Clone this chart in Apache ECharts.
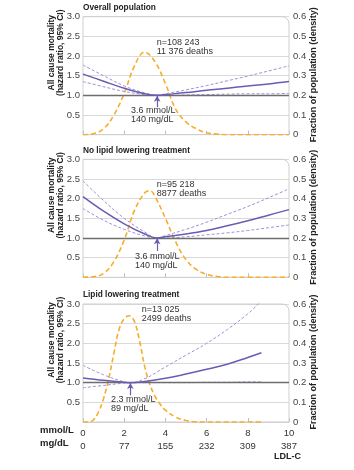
<!DOCTYPE html>
<html><head><meta charset="utf-8">
<script src="https://cdn.jsdelivr.net/npm/echarts@6/dist/echarts.min.js"></script>
<style>html,body{margin:0;padding:0;background:#fff}#c{width:354px;height:470px}</style>
</head><body><div id="c"></div>
<script>
// ---------- data ----------
const panelTitles = ['Overall population', 'No lipid lowering treatment', 'Lipid lowering treatment'];
const nTexts = [['n=108 243', '11 376 deaths'], ['n=95 218', '8877 deaths'], ['n=13 025', '2499 deaths']];
const nadirTexts = [['3.6 mmol/L', '140 mg/dL'], ['3.6 mmol/L', '140 mg/dL'], ['2.3 mmol/L', '89 mg/dL']];
const nadirX = [3.6, 3.6, 2.3];

const hrX1 = [0, 1, 2, 3, 3.6, 4, 5, 6, 7, 8, 9, 10];
const hr1 = [1.54, 1.36, 1.18, 1.04, 1.0, 1.02, 1.07, 1.13, 1.18, 1.24, 1.29, 1.35];
const hr1Up = [1.77, 1.5, 1.24, 1.06, 1.0, 1.04, 1.14, 1.25, 1.37, 1.49, 1.62, 1.75];
const hr1Lo = [1.35, 1.22, 1.1, 1.02, 1.0, 1.0, 1.01, 1.02, 1.03, 1.04, 1.04, 1.05];

const hrX2 = [0, 1, 2, 3, 3.6, 4, 5, 6, 7, 8, 9, 10];
const hr2 = [2.05, 1.68, 1.36, 1.1, 1.0, 1.03, 1.1, 1.19, 1.31, 1.44, 1.58, 1.72];
const hr2Up = [2.45, 1.95, 1.5, 1.15, 1.0, 1.06, 1.22, 1.4, 1.6, 1.8, 2.02, 2.25];
const hr2Lo = [1.75, 1.45, 1.22, 1.05, 1.0, 1.0, 1.03, 1.08, 1.13, 1.19, 1.26, 1.33];

const hrX3 = [0, 1, 2, 2.3, 3, 4, 5, 6, 7, 8, 8.66];
const hr3 = [1.12, 1.06, 1.01, 1.0, 1.03, 1.11, 1.22, 1.34, 1.47, 1.64, 1.76];
const hr3Up = [1.44, 1.2, 1.02, 1.0, 1.1, 1.4, 1.7, 2.0, 2.35, 2.75, 3.08];
const hr3Lo = [0.87, 0.93, 0.99, 1.0, 1.0, 1.0, 1.0, 1.01, 1.01, 1.02, 1.02];

const densX1 = [0, 0.5, 1, 1.5, 2, 2.5, 3, 3.5, 4, 4.5, 5, 5.5, 6, 6.5, 7, 8, 9, 10];
const dens1 = [0, 0.005, 0.03, 0.10, 0.21, 0.35, 0.42, 0.37, 0.26, 0.13, 0.065, 0.03, 0.01, 0.003, 0, 0, 0, 0];
const densX2 = [0, 0.5, 1, 1.5, 2, 2.5, 3, 3.25, 3.5, 4, 4.5, 5, 5.5, 6, 6.5, 7, 8, 9, 10];
const dens2 = [0, 0.003, 0.02, 0.08, 0.19, 0.34, 0.43, 0.44, 0.41, 0.30, 0.18, 0.09, 0.04, 0.015, 0.004, 0, 0, 0, 0];
const densX3 = [0, 0.25, 0.5, 0.75, 1, 1.25, 1.5, 1.75, 2, 2.25, 2.5, 2.75, 3, 3.25, 3.5, 3.75, 4, 4.5, 5, 5.5, 6, 7, 8, 8.66];
const dens3 = [0, 0, 0.01, 0.05, 0.12, 0.22, 0.35, 0.47, 0.525, 0.54, 0.51, 0.41, 0.28, 0.19, 0.13, 0.09, 0.06, 0.025, 0.008, 0.001, 0, 0, 0, 0];

const mmolTicks = [0, 2, 4, 6, 8, 10];
const mgTicks = ['0', '77', '155', '232', '309', '387'];

// ---------- layout / style ----------
const FONT = '"Liberation Sans", Arial, sans-serif';
const PURPLE = '#6a5bb5';
const PURPLE_L = '#9d93d6';
const ORANGE = '#f7ac2a';
const GL = 83, GW = 206, GH = 118;
const tops = [16.7, 159.3, 304];
const arrowFrom = [0.7, 0.67, 0.68];

const pairs = (xs, ys) => xs.map((x, i) => [x, ys[i]]);
const sets = [
  {hx: hrX1, h: hr1, u: hr1Up, l: hr1Lo, dx: densX1, d: dens1},
  {hx: hrX2, h: hr2, u: hr2Up, l: hr2Lo, dx: densX2, d: dens2},
  {hx: hrX3, h: hr3, u: hr3Up, l: hr3Lo, dx: densX3, d: dens3}
];

const grid = [], xAxis = [], yAxis = [], series = [], graphic = [];
tops.forEach((t, i) => {
  grid.push({left: GL, top: t, width: GW, height: GH, containLabel: false});
  xAxis.push({
    type: 'value', gridIndex: i, min: 0, max: 10, interval: 2,
    axisLine: {show: true, lineStyle: {color: '#cfcfcf', width: 1}},
    axisTick: {show: true, inside: true, length: 4, lineStyle: {color: '#bdbdbd'}},
    splitLine: {show: false},
    axisLabel: i === 2 ? {show: true, margin: 6, color: '#333', fontFamily: FONT, fontSize: 9.5,
      formatter: v => String(v)} : {show: false}
  });
  yAxis.push({
    type: 'value', gridIndex: i, min: 0, max: 3, interval: 0.5, position: 'left',
    axisLine: {show: false}, axisTick: {show: false},
    splitLine: {show: true, lineStyle: {color: '#d9d9d9', width: 1}},
    axisLabel: {color: '#444', fontFamily: FONT, fontSize: 9.5, margin: 3,
      formatter: v => v === 0 ? '' : v.toFixed(1)}
  });
  yAxis.push({
    type: 'value', gridIndex: i, min: 0, max: 0.6, interval: 0.1, position: 'right',
    axisLine: {show: false}, axisTick: {show: false}, splitLine: {show: false},
    axisLabel: {color: '#444', fontFamily: FONT, fontSize: 9.5, margin: 4,
      formatter: v => v === 0 ? '0' : v.toFixed(1)}
  });
  const s = sets[i];
  const yl = i * 2, yr = i * 2 + 1;
  series.push({
    type: 'line', xAxisIndex: i, yAxisIndex: yl, data: [], silent: true,
    markLine: {silent: true, symbol: 'none', label: {show: false},
      lineStyle: {color: '#6e6e6e', width: 1.4, type: 'solid'},
      data: [{yAxis: 1}]}
  });
  series.push({
    type: 'line', xAxisIndex: i, yAxisIndex: yr, data: pairs(s.dx, s.d), smooth: 0.4,
    showSymbol: false, silent: true, z: 3,
    lineStyle: {color: ORANGE, width: 1.6, type: [5, 3]}
  });
  series.push({
    type: 'line', xAxisIndex: i, yAxisIndex: yl, data: pairs(s.hx, s.u), smooth: 0.4,
    showSymbol: false, silent: true, z: 4,
    lineStyle: {color: PURPLE_L, width: 1, type: [3, 2]}
  });
  series.push({
    type: 'line', xAxisIndex: i, yAxisIndex: yl, data: pairs(s.hx, s.l), smooth: 0.4,
    showSymbol: false, silent: true, z: 4,
    lineStyle: {color: PURPLE_L, width: 1, type: [3, 2]}
  });
  series.push({
    type: 'line', xAxisIndex: i, yAxisIndex: yl, data: pairs(s.hx, s.h), smooth: 0.4,
    showSymbol: false, silent: true, z: 5,
    lineStyle: {color: PURPLE, width: 1.5},
    markLine: {silent: true, symbol: ['none', 'arrow'], symbolSize: [5, 6], label: {show: false},
      lineStyle: {color: PURPLE, width: 1.2, type: 'solid'},
      data: [[{coord: [nadirX[i], arrowFrom[i]]}, {coord: [nadirX[i], 0.99]}]]}
  });

  graphic.push({type: 'rect', z: 1, silent: true,
    shape: {x: GL, y: t, width: GW, height: GH, r: [0, 7, 0, 0]},
    style: {fill: 'none', stroke: '#cfcfcf', lineWidth: 1}});
  graphic.push({type: 'text', x: GL, y: t - 9, silent: true,
    style: {text: panelTitles[i], font: 'bold 8.3px ' + FONT, fill: '#222', align: 'left', verticalAlign: 'middle'}});
  graphic.push({type: 'text', x: 56, y: t + 36, rotation: Math.PI / 2, silent: true,
    style: {text: 'All cause mortality\n(hazard ratio, 95% CI)', font: 'bold 8.5px ' + FONT, fill: '#222',
      align: 'center', verticalAlign: 'middle', lineHeight: 9.5}});
  graphic.push({type: 'text', x: 313.5, y: t + 58, rotation: Math.PI / 2, silent: true,
    style: {text: 'Fraction of population (density)', font: 'bold 9px ' + FONT, fill: '#222',
      align: 'center', verticalAlign: 'middle'}});
});

const nPos = [[156.7, 38], [156.7, 179.5], [141.7, 305]];
const nadPos = [[131, 106], [135, 252], [111, 395]];
for (let i = 0; i < 3; i++) {
  graphic.push({type: 'text', x: nPos[i][0], y: nPos[i][1], silent: true, z: 10,
    style: {text: nTexts[i].join('\n'), font: '9px ' + FONT, fill: '#333', lineHeight: 9.3,
      align: 'left', verticalAlign: 'top'}});
  graphic.push({type: 'text', x: nadPos[i][0], y: nadPos[i][1], silent: true, z: 10,
    style: {text: nadirTexts[i].join('\n'), font: '9px ' + FONT, fill: '#333', lineHeight: 9.3,
      align: 'left', verticalAlign: 'top'}});
}
xAxis.push({
  type: 'value', gridIndex: 2, min: 0, max: 10, interval: 2, position: 'bottom', offset: 13,
  axisLine: {show: false}, axisTick: {show: false}, splitLine: {show: false},
  axisLabel: {show: true, margin: 6, color: '#333', fontFamily: FONT, fontSize: 9.5,
    formatter: v => mgTicks[mmolTicks.indexOf(v)]}
});
graphic.push({type: 'text', x: 40, y: 430, silent: true,
  style: {text: 'mmol/L', font: 'bold 9.5px ' + FONT, fill: '#222', align: 'left', verticalAlign: 'middle'}});
graphic.push({type: 'text', x: 40, y: 443, silent: true,
  style: {text: 'mg/dL', font: 'bold 9.5px ' + FONT, fill: '#222', align: 'left', verticalAlign: 'middle'}});
graphic.push({type: 'text', x: 274, y: 457, silent: true,
  style: {text: 'LDL-C', font: 'bold 9px ' + FONT, fill: '#222', align: 'left', verticalAlign: 'middle'}});

const chart = echarts.init(document.getElementById('c'), null, {renderer: 'canvas'});
chart.setOption({animation: false, backgroundColor: '#fff', grid, xAxis, yAxis, series, graphic});
</script></body></html>
